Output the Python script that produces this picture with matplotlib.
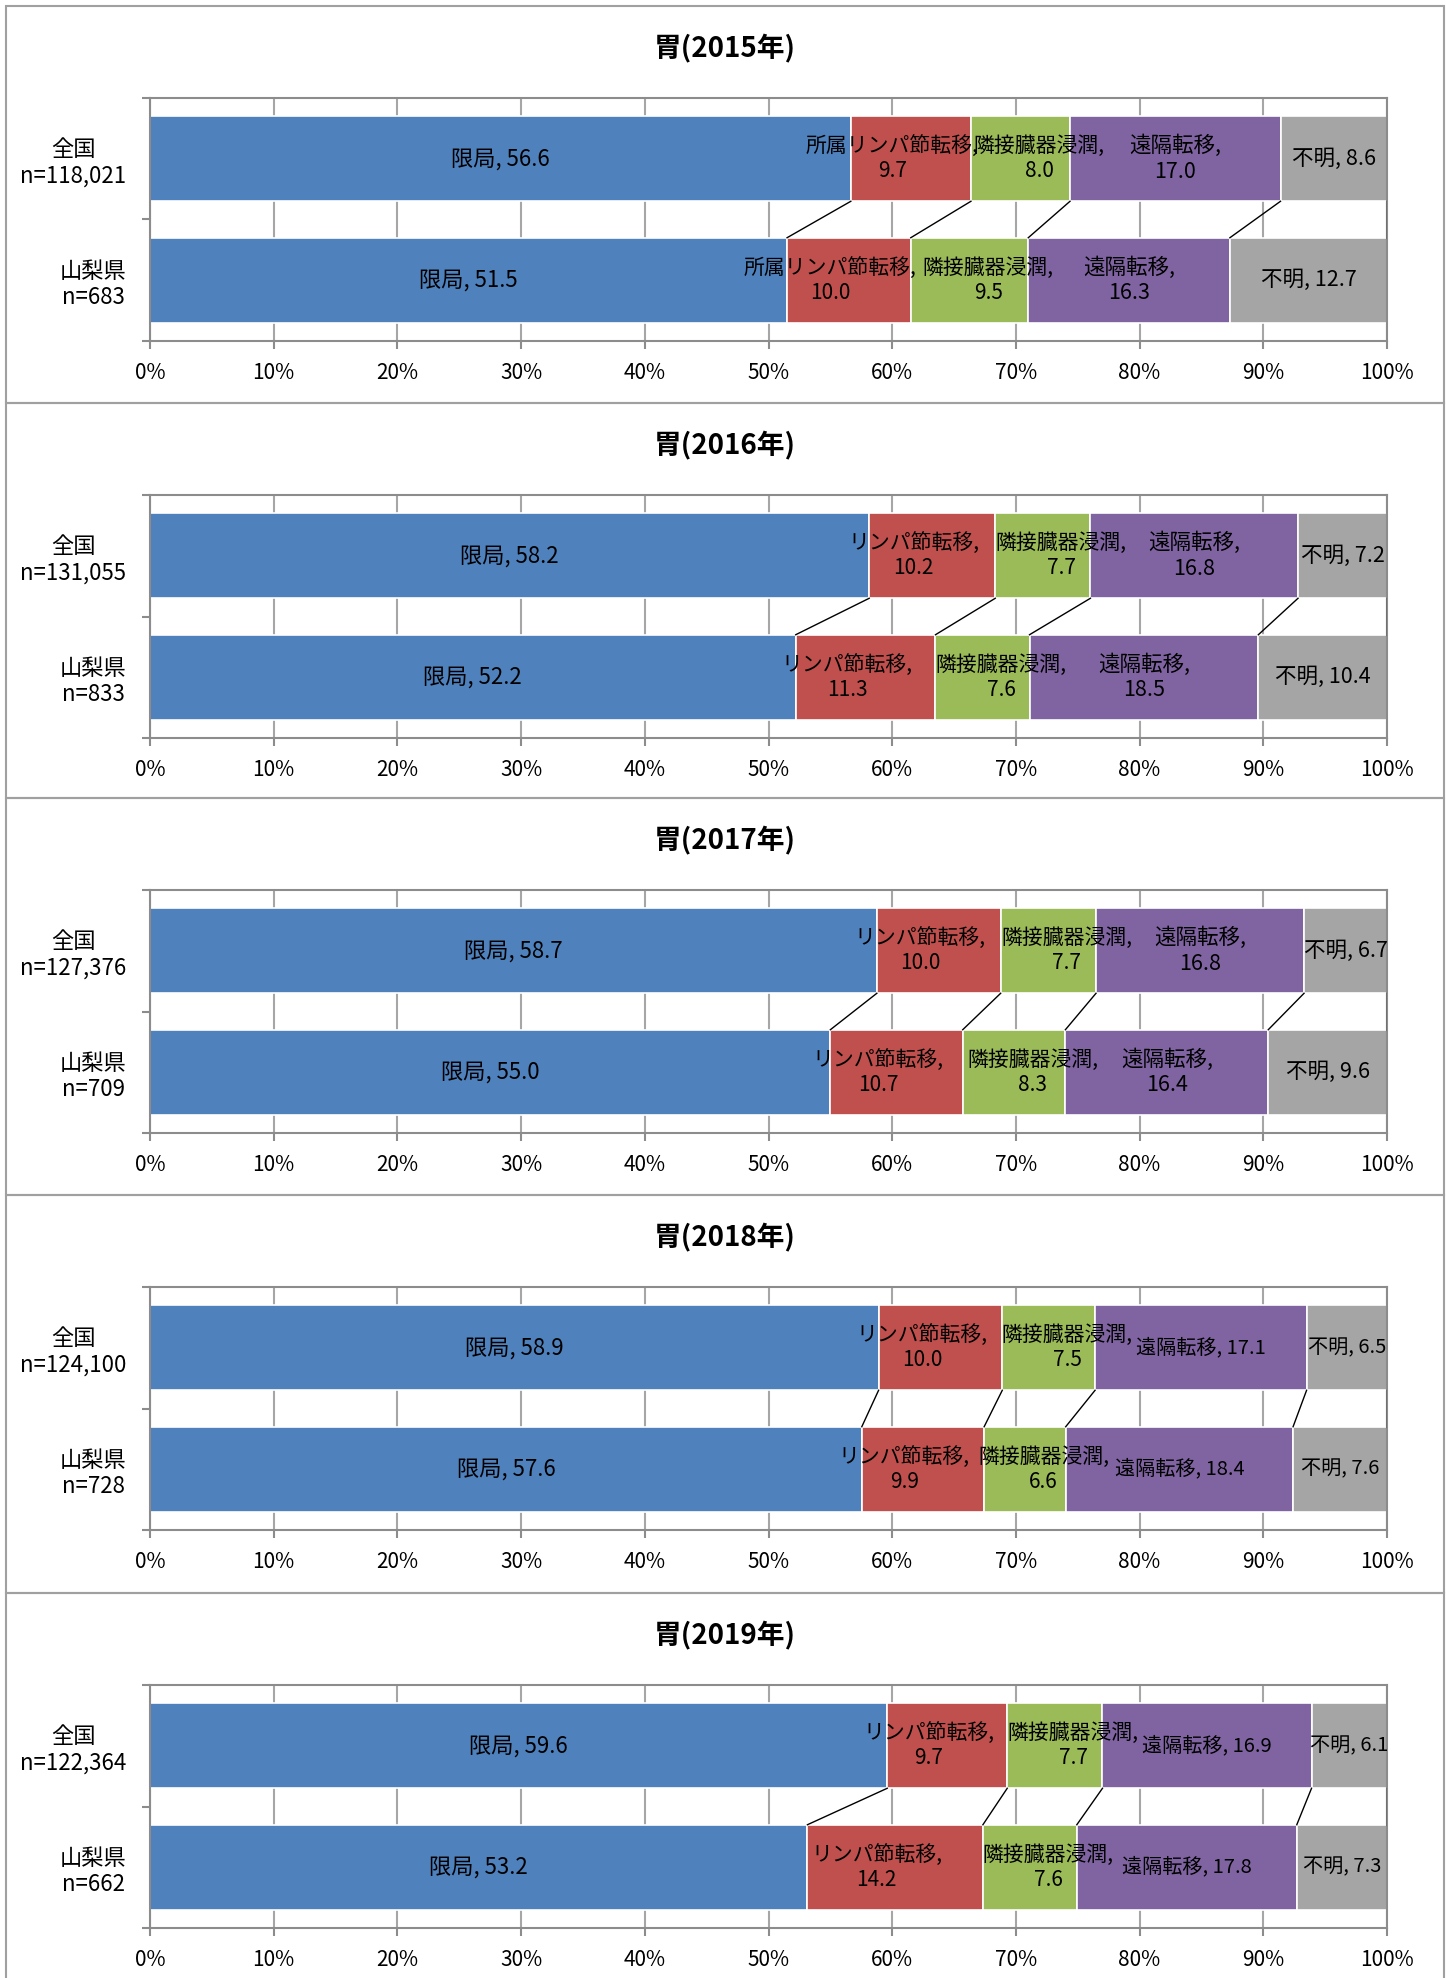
import numpy as np
import matplotlib.pyplot as plt
from matplotlib.patches import Rectangle

plt.rcParams['font.family'] = ['Noto Sans CJK JP', 'DejaVu Sans']

# data
years = [2015, 2016, 2017, 2018, 2019]
stages = ['限局', 'リンパ節転移', '隣接臓器浸潤', '遠隔転移', '不明']
lymph_names = ['所属リンパ節転移', 'リンパ節転移', 'リンパ節転移', 'リンパ節転移', 'リンパ節転移']
n_zenkoku = ['118,021', '131,055', '127,376', '124,100', '122,364']
n_yamanashi = ['683', '833', '709', '728', '662']

zenkoku = [
    [56.6, 9.7, 8.0, 17.0, 8.6],
    [58.2, 10.2, 7.7, 16.8, 7.2],
    [58.7, 10.0, 7.7, 16.8, 6.7],
    [58.9, 10.0, 7.5, 17.1, 6.5],
    [59.6, 9.7, 7.7, 16.9, 6.1],
]
yamanashi = [
    [51.5, 10.0, 9.5, 16.3, 12.7],
    [52.2, 11.3, 7.6, 18.5, 10.4],
    [55.0, 10.7, 8.3, 16.4, 9.6],
    [57.6, 9.9, 6.6, 18.4, 7.6],
    [53.2, 14.2, 7.6, 17.8, 7.3],
]

colors = ['#4F81BD', '#C0504D', '#9BBB59', '#8064A2', '#A5A5A5']
# label layout: wrapping, horizontal nudge (in %) and size per stage
wrap = [False, True, True, True, False]
purple_wrap = [True, True, True, False, False]
nudge = [0, -1.5, 1.5, 0, 0]
label_size = [16, 15, 15, 15.5, 15.5]

W, H = 1446, 1978
fig = plt.figure(figsize=(W / 100, H / 100), dpi=100)

panel_tops = [6, 403, 798, 1195, 1593]
panel_bottoms = [403, 798, 1195, 1593, 1990]
ax_left, ax_right = 150, 1387
ax_h = 243
grey = '#8C8C8C'

for i, yr in enumerate(years):
    top = panel_tops[i]
    fig.add_artist(Rectangle((6 / W, 1 - panel_bottoms[i] / H), 1438 / W,
                             (panel_bottoms[i] - top) / H, transform=fig.transFigure,
                             fill=False, ec='#A0A0A0', lw=1.5))
    fig.text(725 / W, 1 - (top + 43) / H, f'胃({yr}年)', ha='center', va='center',
             fontsize=20, fontweight='bold')

    ax = fig.add_axes([ax_left / W, 1 - (top + 92 + ax_h) / H,
                       (ax_right - ax_left) / W, ax_h / H])

    rows = [zenkoku[i], yamanashi[i]]
    cums = []
    for r, vals in enumerate(rows):
        vals = np.array(vals)
        norm = vals / vals.sum() * 100
        left = np.concatenate([[0], np.cumsum(norm)[:-1]])
        cums.append(np.cumsum(norm))
        ax.barh(r, norm, left=left, height=0.7, color=colors,
                edgecolor='white', linewidth=1.2, zorder=2)
        for j in range(5):
            name = lymph_names[i] if j == 1 else stages[j]
            two = purple_wrap[i] if j == 3 else wrap[j]
            sep = ',\n' if two else ', '
            size = label_size[j]
            if j in (3, 4) and not purple_wrap[i]:
                size = 14.5
            ax.text(left[j] + norm[j] / 2 + nudge[j], r, f'{name}{sep}{vals[j]:.1f}',
                    ha='center', va='center', ma='center', fontsize=size,
                    linespacing=1.2, zorder=4)

    # series lines between the two bars
    for j in range(5):
        ax.plot([cums[0][j], cums[1][j]], [0.35, 0.65], color='black', lw=1, zorder=3)

    ax.set_xlim(0, 100)
    ax.set_ylim(1.5, -0.5)
    ax.set_xticks(np.arange(0, 101, 10))
    ax.set_xticklabels([f'{v}%' for v in range(0, 101, 10)])
    ax.set_yticks([0, 1])
    ax.set_yticklabels([f'全国\nn={n_zenkoku[i]}', f'山梨県\nn={n_yamanashi[i]}'])
    for t in ax.get_yticklabels():
        t.set_multialignment('center')
        t.set_linespacing(1.2)
    ax.set_yticks([-0.5, 0.5, 1.5], minor=True)
    ax.tick_params(axis='y', which='major', length=0, pad=17, labelsize=16)
    ax.tick_params(axis='y', which='minor', length=6, width=1.5, color=grey)
    ax.tick_params(axis='x', length=6, width=1.5, color=grey, labelsize=15, pad=9)
    ax.xaxis.grid(True, color='#A6A6A6', lw=1.5)
    ax.set_axisbelow(True)
    for s in ax.spines.values():
        s.set_color(grey)
        s.set_linewidth(1.5)

fig.savefig('out.png', dpi=100)
